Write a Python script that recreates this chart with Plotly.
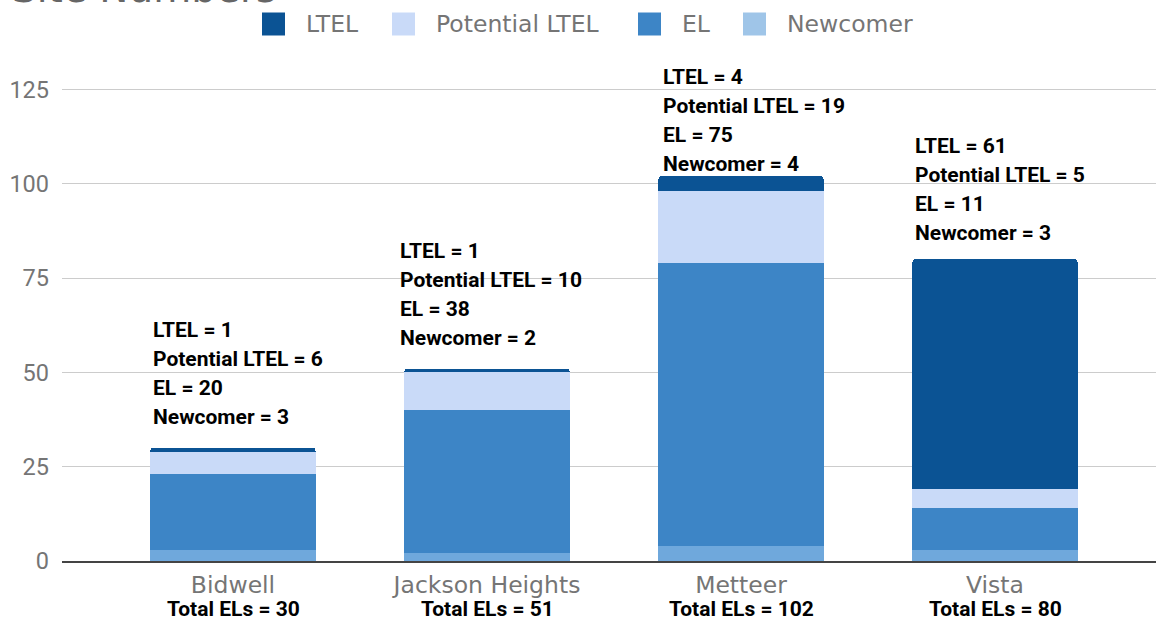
import plotly.graph_objects as go

# ---- data ----
sites = ["Bidwell", "Jackson Heights", "Metteer", "Vista"]
newcomer = [3, 2, 4, 3]
el = [20, 38, 75, 11]
potential_ltel = [6, 10, 19, 5]
ltel = [1, 1, 4, 61]
totals = [30, 51, 102, 80]
y_ticks = [0, 25, 50, 75, 100, 125]
title_text = "Site Numbers"

# ---- styling / layout constants ----
W, H = 1156, 621
M_L, M_R, M_T, M_B = 62, 0, 31, 60
PX_PER_UNIT = 3.772
plot_h = H - M_T - M_B
plot_w = W - M_L - M_R
y_max = plot_h / PX_PER_UNIT
cat_px = 254.0
x_lo = -(233 - M_L) / cat_px
x_hi = x_lo + plot_w / cat_px

bar_colors = {"Newcomer": "#6fa8dc", "EL": "#3d85c6",
              "Potential LTEL": "#c9daf8", "LTEL": "#0b5394"}
legend_colors = {"LTEL": "#0b5394", "Potential LTEL": "#c9daf8",
                 "EL": "#3d85c6", "Newcomer": "#9fc5e8"}
GRAY = "#757575"
BOLD_FONT = "Roboto"
BOLD_SIZE = 21

# label block placement (pixels from top of first line centre, x offset from bar centre)
label_first_line_px = [329.5, 251, 76.5, 145.5]
label_dx = [-82, -89, -80, -82]
LINE_STEP = 29

fig = go.Figure()
for name, vals in [("Newcomer", newcomer), ("EL", el),
                   ("Potential LTEL", potential_ltel), ("LTEL", ltel)]:
    fig.add_trace(go.Bar(x=sites, y=vals, name=name,
                         marker=dict(color=bar_colors[name], line=dict(width=0)),
                         showlegend=False, hoverinfo="x+y+name"))

annotations = []
for i, s in enumerate(sites):
    lines = [f"LTEL = {ltel[i]}", f"Potential LTEL = {potential_ltel[i]}",
             f"EL = {el[i]}", f"Newcomer = {newcomer[i]}"]
    y0 = (H - M_B - label_first_line_px[i]) / PX_PER_UNIT
    for k, t in enumerate(lines):
        annotations.append(dict(
            x=s, y=y0, xref="x", yref="y", text=t, showarrow=False,
            xanchor="left", yanchor="middle", align="left",
            xshift=label_dx[i], yshift=-LINE_STEP * k,
            font=dict(family=BOLD_FONT, size=BOLD_SIZE, color="#000000", weight="bold")))
    annotations.append(dict(
        x=s, y=0, xref="x", yref="y", text=f"Total ELs = {totals[i]}",
        showarrow=False, xanchor="center", yanchor="middle", yshift=-48,
        borderpad=0,
        font=dict(family=BOLD_FONT, size=BOLD_SIZE, color="#000000", weight="bold")))

# title (mostly cropped at top)
annotations.append(dict(
    x=(10 - M_L) / plot_w, y=1, xref="paper", yref="paper", text=title_text,
    showarrow=False, xanchor="left", yanchor="bottom", yshift=17.5,
    font=dict(family="DejaVu Sans", size=39, color="#666666")))

# manual legend
shapes = []
legend_items = ["LTEL", "Potential LTEL", "EL", "Newcomer"]
swatch_x = [262, 392, 638, 743]
LEG_CY = 24
SW = 23
for name, sx in zip(legend_items, swatch_x):
    x0 = (sx - M_L) / plot_w
    x1 = (sx + SW - M_L) / plot_w
    y0 = 1 + (M_T - (LEG_CY + SW / 2)) / plot_h
    y1 = 1 + (M_T - (LEG_CY - SW / 2)) / plot_h
    shapes.append(dict(type="rect", xref="paper", yref="paper",
                       x0=x0, x1=x1, y0=y0, y1=y1,
                       fillcolor=legend_colors[name], line=dict(width=0)))
    annotations.append(dict(
        x=(sx + SW + 19 - M_L) / plot_w, y=1 + (M_T - LEG_CY) / plot_h,
        xref="paper", yref="paper", text=name, showarrow=False,
        xanchor="left", yanchor="middle",
        font=dict(family="DejaVu Sans", size=23.5, color=GRAY)))

fig.update_layout(
    width=W, height=H, barmode="stack", bargap=0.35, barcornerradius=3,
    margin=dict(l=M_L, r=M_R, t=M_T, b=M_B, pad=0),
    plot_bgcolor="white", paper_bgcolor="white",
    annotations=annotations, shapes=shapes, showlegend=False,
    xaxis=dict(type="category", range=[x_lo, x_hi], showgrid=False,
               showline=True, linecolor="#444444", linewidth=2,
               ticks="", tickfont=dict(family="DejaVu Sans", size=23.5, color=GRAY),
               ticklabelstandoff=2),
    yaxis=dict(range=[0, y_max], tickvals=y_ticks, showgrid=True,
               gridcolor="#cccccc", gridwidth=1, zeroline=False, showline=False,
               ticks="", ticklabelstandoff=12,
               tickfont=dict(family="Roboto", size=23.5, color=GRAY)),
)

fig.write_html("out.html", config={"displayModeBar": False},
               post_script="document.body.style.margin='0px';document.body.style.overflow='hidden';")
